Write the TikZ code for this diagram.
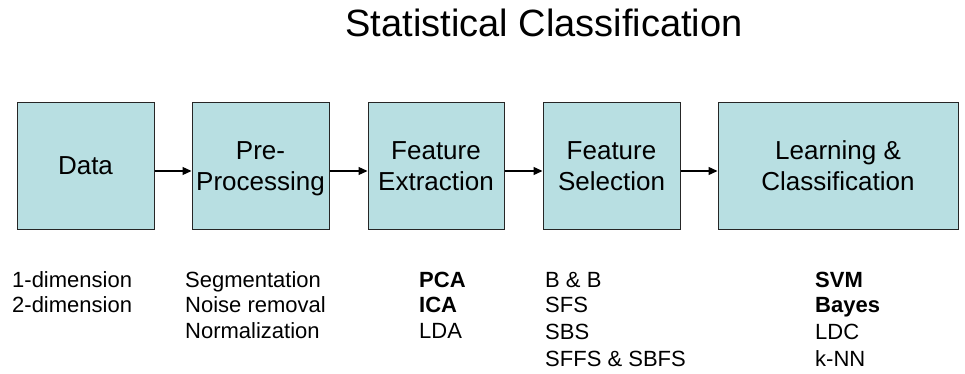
\documentclass[tikz,border=0pt]{standalone}
\usepackage{fontspec}
\setmainfont{Liberation Sans}
\usetikzlibrary{arrows.meta}
\definecolor{boxfill}{RGB}{184,223,226}
\tikzset{
  stage/.style={draw=black!85, line width=1pt, fill=boxfill, minimum height=126pt, align=center,
    font=\fontsize{26}{31}\selectfont, inner sep=0pt, text depth=0pt},
  flow/.style={line width=1.3pt, -{Triangle[length=9pt,width=8pt]}},
  item/.style={anchor=base west, inner sep=0pt, font=\fontsize{22}{26}\selectfont},
  bitem/.style={item, font=\fontsize{22}{26}\selectfont\bfseries},
}
\begin{document}
\begin{tikzpicture}[x=1pt,y=-1pt]
\useasboundingbox (0,0) rectangle (965,374);
\node[anchor=base, inner sep=0pt, font=\fontsize{38}{44}\selectfont] (title) at (544,37) {Statistical Classification};

\node[stage, minimum width=137pt] (data) at (85.5,166) {Data};
\node[stage, minimum width=137pt] (pre) at (260.5,166) {Pre-\\Processing};
\node[stage, minimum width=136pt] (fext) at (436,166) {Feature\\Extraction};
\node[stage, minimum width=137pt] (fsel) at (611.5,166) {Feature\\Selection};
\node[stage, minimum width=240pt] (learn) at (838,166) {Learning \&\\Classification};

\coordinate (a1s) at (data.east |- 0,171);
\coordinate (a1e) at (pre.west |- 0,171);
\coordinate (a2s) at (pre.east |- 0,171);
\coordinate (a2e) at (fext.west |- 0,171);
\coordinate (a3s) at (fext.east |- 0,171);
\coordinate (a3e) at (fsel.west |- 0,171);
\coordinate (a4s) at (fsel.east |- 0,171);
\coordinate (a4e) at (learn.west |- 0,171);
\draw[flow] (a1s) -- (a1e);
\draw[flow] (a2s) -- (a2e);
\draw[flow] (a3s) -- (a3e);
\draw[flow] (a4s) -- (a4e);

\node[item] (d1) at (12,287) {1-dimension};
\node[item] (d2) at (12,312) {2-dimension};

\node[item] (p1) at (185,287) {Segmentation};
\node[item] (p2) at (185,312) {Noise removal};
\node[item] (p3) at (185,338) {Normalization};

\node[bitem] (e1) at (419,287) {PCA};
\node[bitem] (e2) at (419,312) {ICA};
\node[item] (e3) at (419,338) {LDA};

\node[item] (s1) at (545,287) {B \& B};
\node[item] (s2) at (545,312) {SFS};
\node[item] (s3) at (545,339) {SBS};
\node[item] (s4) at (545,366) {SFFS \& SBFS};

\node[bitem] (l1) at (815,287) {SVM};
\node[bitem] (l2) at (815,312) {Bayes};
\node[item] (l3) at (815,339) {LDC};
\node[item] (l4) at (815,366) {k-NN};
\end{tikzpicture}
\end{document}
